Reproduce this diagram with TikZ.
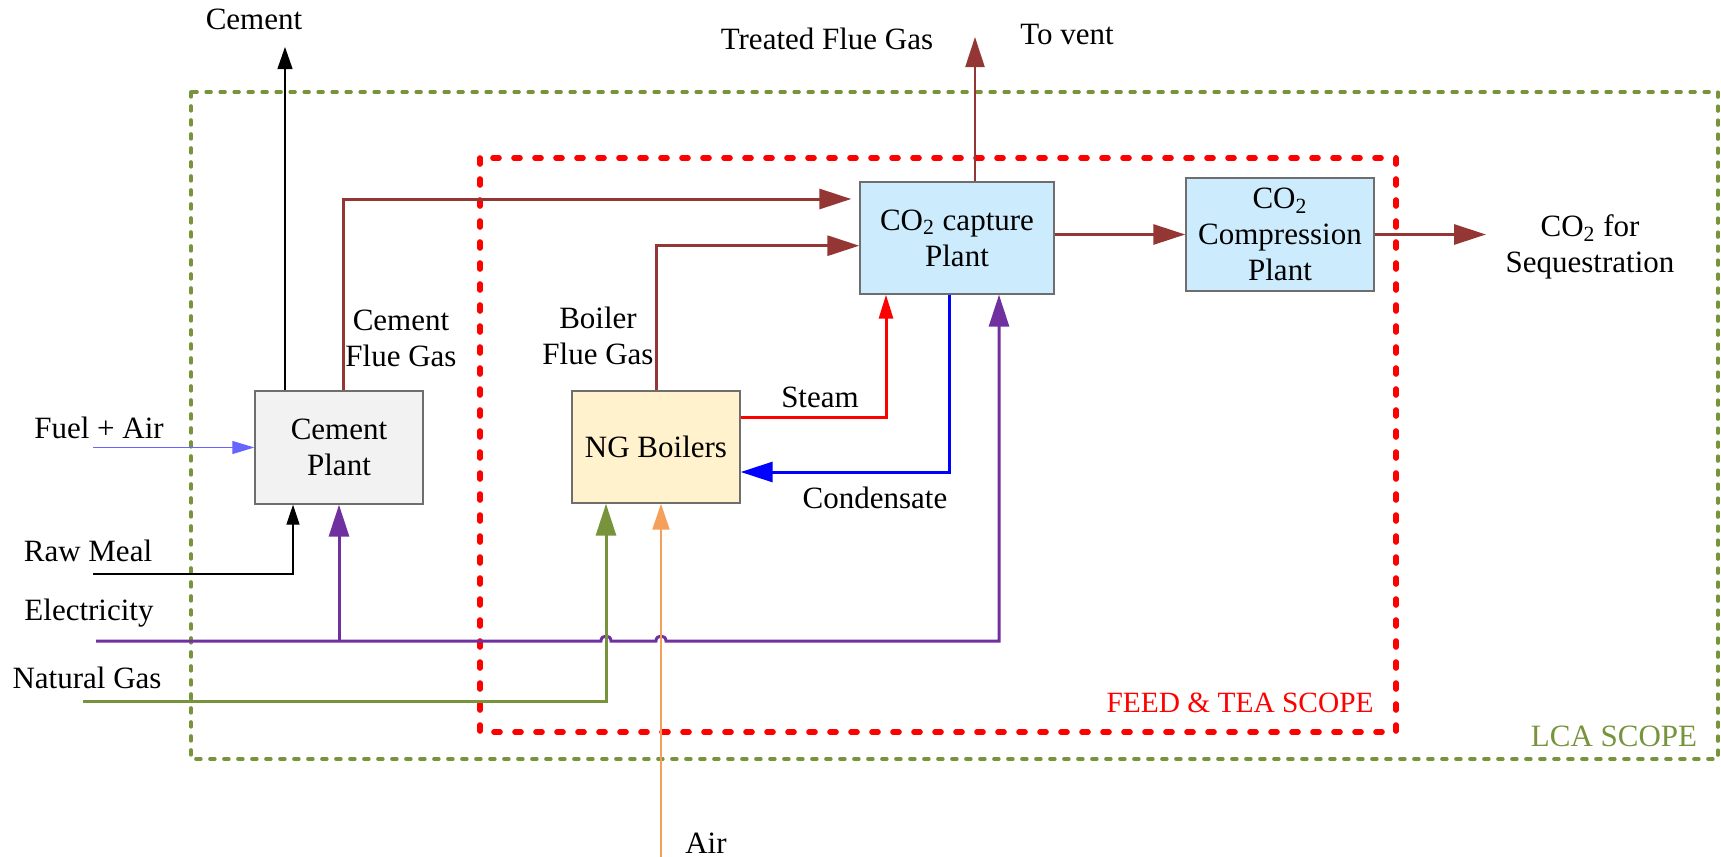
\documentclass[tikz,border=0pt]{standalone}
\usepackage{fontspec}
\setmainfont{Liberation Serif}
\usetikzlibrary{arrows.meta,calc}
\definecolor{brn}{HTML}{943634}
\definecolor{elecc}{HTML}{7030A0}
\definecolor{ngc}{HTML}{77933C}
\definecolor{airc}{HTML}{F5A05A}
\definecolor{fuelc}{HTML}{6666FF}
\definecolor{boxgray}{HTML}{6E6E6E}
\definecolor{cemfill}{HTML}{F2F2F2}
\definecolor{capfill}{HTML}{CCEBFC}
\definecolor{ngfill}{HTML}{FFF2CC}
\begin{document}
\begin{tikzpicture}[x=0.5pt,y=-0.5pt,
  every node/.style={font=\fontsize{15.5}{18}\selectfont, inner sep=0pt},
  box/.style={draw=boxgray, line width=0.7pt, align=center, inner sep=0pt},
  lca/.style={draw=ngc, line width=1.8pt, line cap=round, line join=round, dash pattern=on 2.4pt off 4.6pt},
  feed/.style={draw=red, line width=2.8pt, line cap=round, line join=round, dash pattern=on 3pt off 7.5pt},
  bigtip/.style={-{Triangle[length=16pt,width=10pt]}},
  brnline/.style={draw=brn, line width=1.5pt, bigtip},
  elecline/.style={draw=elecc, line width=1.5pt},
  ngline/.style={draw=ngc, line width=1.5pt, bigtip},
  airline/.style={draw=airc, line width=1pt, -{Triangle[length=13pt,width=8.5pt]}},
  steamline/.style={draw=red, line width=1.5pt, -{Triangle[length=12pt,width=7pt]}},
  condline/.style={draw=blue, line width=1.5pt, -{Triangle[length=16pt,width=10pt]}},
  thinblk/.style={draw=black, line width=0.6pt},
  fuelline/.style={draw=fuelc, line width=0.6pt, -{Triangle[length=11pt,width=6.5pt]}}
]
\useasboundingbox (0,0) rectangle (1721,857);

% scope boxes
\draw[lca] (191,92) rectangle (1718,759);
\draw[feed] (480,158) rectangle (1396,732);
\node[text=red, anchor=east, font=\fontsize{14.7}{17}\selectfont] (feedlbl) at (1374,703) {FEED \& TEA SCOPE};
\node[text=ngc] (lcalbl) at (1614,736) {LCA SCOPE};

% process boxes
\node[box, fill=cemfill, minimum width=84pt, minimum height=56.5pt] (cplant) at (339,447.5) {Cement\\Plant};
\node[box, fill=capfill, minimum width=97pt, minimum height=56pt] (capture) at (957,238) {CO\textsubscript{2} capture\\Plant};
\node[box, fill=ngfill, minimum width=84pt, minimum height=56pt] (ngb) at (656,447) {NG Boilers};
\node[box, fill=capfill, minimum width=94pt, minimum height=56.5pt] (comp) at (1280,234.5) {CO\textsubscript{2}\\Compression\\Plant};

% labels
\node (lblcement) at (254,19) {Cement};
\node (lbltreated) at (827,39) {Treated Flue Gas};
\node (lblvent) at (1067,35) {To vent};
\node[align=center] (lblcfg) at (401,338) {Cement\\Flue Gas};
\node[align=center] (lblbfg) at (598,336) {Boiler\\Flue Gas};
\node (lblsteam) at (820,397) {Steam};
\node (lblcond) at (875,498) {Condensate};
\node (lblfuel) at (99,428) {Fuel + Air};
\node (lblraw) at (88,551) {Raw Meal};
\node (lblelec) at (89,613) {Electricity};
\node (lblng) at (87,678) {Natural Gas};
\node (lblair) at (706,843) {Air};
\node[align=center] (lblseq) at (1590,247) {CO\textsubscript{2} for\\Sequestration};

% free ends and entry points
\coordinate (cementout) at (285,47);
\coordinate (vent) at (975,37);
\coordinate (seqout) at (1486,234.5);
\coordinate (fuelstart) at (93,447.5);
\coordinate (rawstart) at (93,574);
\coordinate (elecstart) at (96,641);
\coordinate (ngstart) at (83,701);
\coordinate (airstart) at (661,857);
\coordinate (ngin) at ([xshift=-25pt]ngb.south);
\coordinate (airin) at ([xshift=2.5pt]ngb.south);
\coordinate (elecin) at ([xshift=21pt]capture.south);

% cement plant connectors
\draw[thinblk, -{Triangle[length=11pt,width=7.5pt]}] ([xshift=-27pt]cplant.north) -- (cementout);
\draw[brnline, shorten >=4pt] ([xshift=2pt]cplant.north) |- ([yshift=19.5pt]capture.west);
\draw[fuelline] (fuelstart) -- (cplant.west);
\draw[thinblk, -{Triangle[length=10pt,width=6.5pt]}] (rawstart) -| ([xshift=-23pt]cplant.south);

% boiler flue gas
\draw[brnline] (ngb.north) |- ([yshift=-3.85pt]capture.west);
% treated flue gas
\draw[draw=brn, line width=1.1pt, -{Triangle[length=15pt,width=9.5pt]}] ([xshift=9pt]capture.north) -- (vent);
% capture to compression
\draw[brnline] (capture.east |- comp.west) -- (comp.west);
\draw[brnline] (comp.east) -- (seqout);

% steam and condensate
\draw[steamline] ([yshift=15pt]ngb.east) -| ([xshift=-35.5pt]capture.south);
\draw[condline] ([xshift=-4pt]capture.south) |- ([yshift=-12.5pt]ngb.east);

% electricity
\draw[elecline, -{Triangle[length=16pt,width=10pt]}] (elecstart) -- ($(elecstart -| ngin)+(-2.5pt,0)$)
  .. controls +(0,3.3pt) and +(0,3.3pt) .. ($(elecstart -| ngin)+(2.5pt,0)$)
  -- ($(elecstart -| airin)+(-2.5pt,0)$)
  .. controls +(0,3.3pt) and +(0,3.3pt) .. ($(elecstart -| airin)+(2.5pt,0)$)
  -- (elecstart -| elecin) -- (elecin);
\draw[elecline, -{Triangle[length=16pt,width=10pt]}] (elecstart -| cplant.south) -- (cplant.south);

% natural gas and air
\draw[ngline] (ngstart) -| (ngin);
\draw[airline] (airstart) -- (airin);
\end{tikzpicture}
\end{document}
